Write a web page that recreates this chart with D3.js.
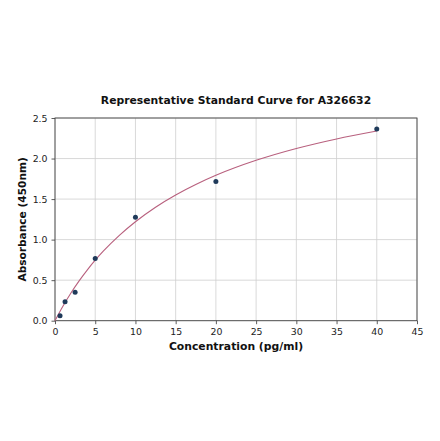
<!DOCTYPE html>
<html><head><meta charset="utf-8">
<script src="https://cdn.jsdelivr.net/npm/d3@7"></script>
<style>html,body{margin:0;padding:0;background:#fff;}</style>
</head><body>
<script>
const title = "Representative Standard Curve for A326632";
const xLabel = "Concentration (pg/ml)";
const yLabel = "Absorbance (450nm)";
const concentrations = [0.625, 1.25, 2.5, 5, 10, 20, 40];
const absorbances = [0.062, 0.235, 0.35, 0.766, 1.277, 1.717, 2.364];
const curveX = [0, 0.5, 1, 2, 3, 4, 5, 6, 8, 10, 12.5, 15, 17.5, 20, 25, 30, 35, 40];
const curveY = [0, 0.093, 0.181, 0.344, 0.491, 0.624, 0.746, 0.857, 1.053, 1.221, 1.400, 1.551, 1.680, 1.793, 1.978, 2.124, 2.242, 2.340];
const xTicks = [0, 5, 10, 15, 20, 25, 30, 35, 40, 45];
const yTicks = [0, 0.5, 1.0, 1.5, 2.0, 2.5];

const W = 440, H = 441;
const m = {l: 55, r: 23, t: 118, b: 120};
const svg = d3.select("body").append("svg").attr("width", W).attr("height", H)
  .style("font-family", "DejaVu Sans, sans-serif");
const x = d3.scaleLinear().domain([0, 45]).range([m.l, W - m.r]);
const y = d3.scaleLinear().domain([0, 2.5]).range([H - m.b - 0.3, m.t]);

// grid
svg.append("g").selectAll("line").data(xTicks).join("line")
  .attr("x1", d => x(d)).attr("x2", d => x(d)).attr("y1", y(0)).attr("y2", y(2.5))
  .attr("stroke", "#cfcfcf").attr("stroke-width", 0.8);
svg.append("g").selectAll("line").data(yTicks).join("line")
  .attr("y1", d => y(d)).attr("y2", d => y(d)).attr("x1", x(0)).attr("x2", x(45))
  .attr("stroke", "#cfcfcf").attr("stroke-width", 0.8);

// axes
const xAxis = svg.append("g").attr("transform", `translate(0,${y(0)})`)
  .call(d3.axisBottom(x).tickValues(xTicks).tickSize(3.5).tickFormat(d3.format("d")));
const yAxis = svg.append("g").attr("transform", `translate(${x(0)},0)`)
  .call(d3.axisLeft(y).tickValues(yTicks).tickSize(3.5).tickFormat(d3.format(".1f")));
[xAxis, yAxis].forEach(a => {
  a.select(".domain").remove();
  a.selectAll("line").attr("stroke", "#333").attr("stroke-width", 0.8);
  a.selectAll("text").attr("font-family", "DejaVu Sans, sans-serif").attr("font-size", 9.4).attr("fill", "#222");
});
xAxis.selectAll("text").attr("dy", "0.85em");
yAxis.selectAll("text").attr("dx", "-0.1em");

// frame
svg.append("rect").attr("x", x(0)).attr("y", y(2.5)).attr("width", x(45) - x(0)).attr("height", y(0) - y(2.5))
  .attr("fill", "none").attr("stroke", "#444").attr("stroke-width", 0.9);

// curve
const line = d3.line().x((d, i) => x(curveX[i])).y(d => y(d)).curve(d3.curveMonotoneX);
svg.append("path").datum(curveY).attr("d", line).attr("fill", "none")
  .attr("stroke", "#b8607e").attr("stroke-width", 1.1);

// points
svg.append("g").selectAll("circle").data(absorbances).join("circle")
  .attr("cx", (d, i) => x(concentrations[i])).attr("cy", d => y(d)).attr("r", 2.5)
  .attr("fill", "#1f3a5a");

// texts
svg.append("text").attr("x", (x(0) + x(45)) / 2).attr("y", 104).attr("text-anchor", "middle")
  .attr("font-weight", "bold").attr("font-size", 10.8).attr("fill", "#111").text(title);
svg.append("text").attr("x", (x(0) + x(45)) / 2).attr("y", 350).attr("text-anchor", "middle")
  .attr("font-weight", "bold").attr("font-size", 10.8).attr("fill", "#111").text(xLabel);
svg.append("text").attr("transform", `translate(26,${(y(0) + y(2.5)) / 2}) rotate(-90)`).attr("text-anchor", "middle")
  .attr("font-weight", "bold").attr("font-size", 10.6).attr("fill", "#111").text(yLabel);
</script>
</body></html>
